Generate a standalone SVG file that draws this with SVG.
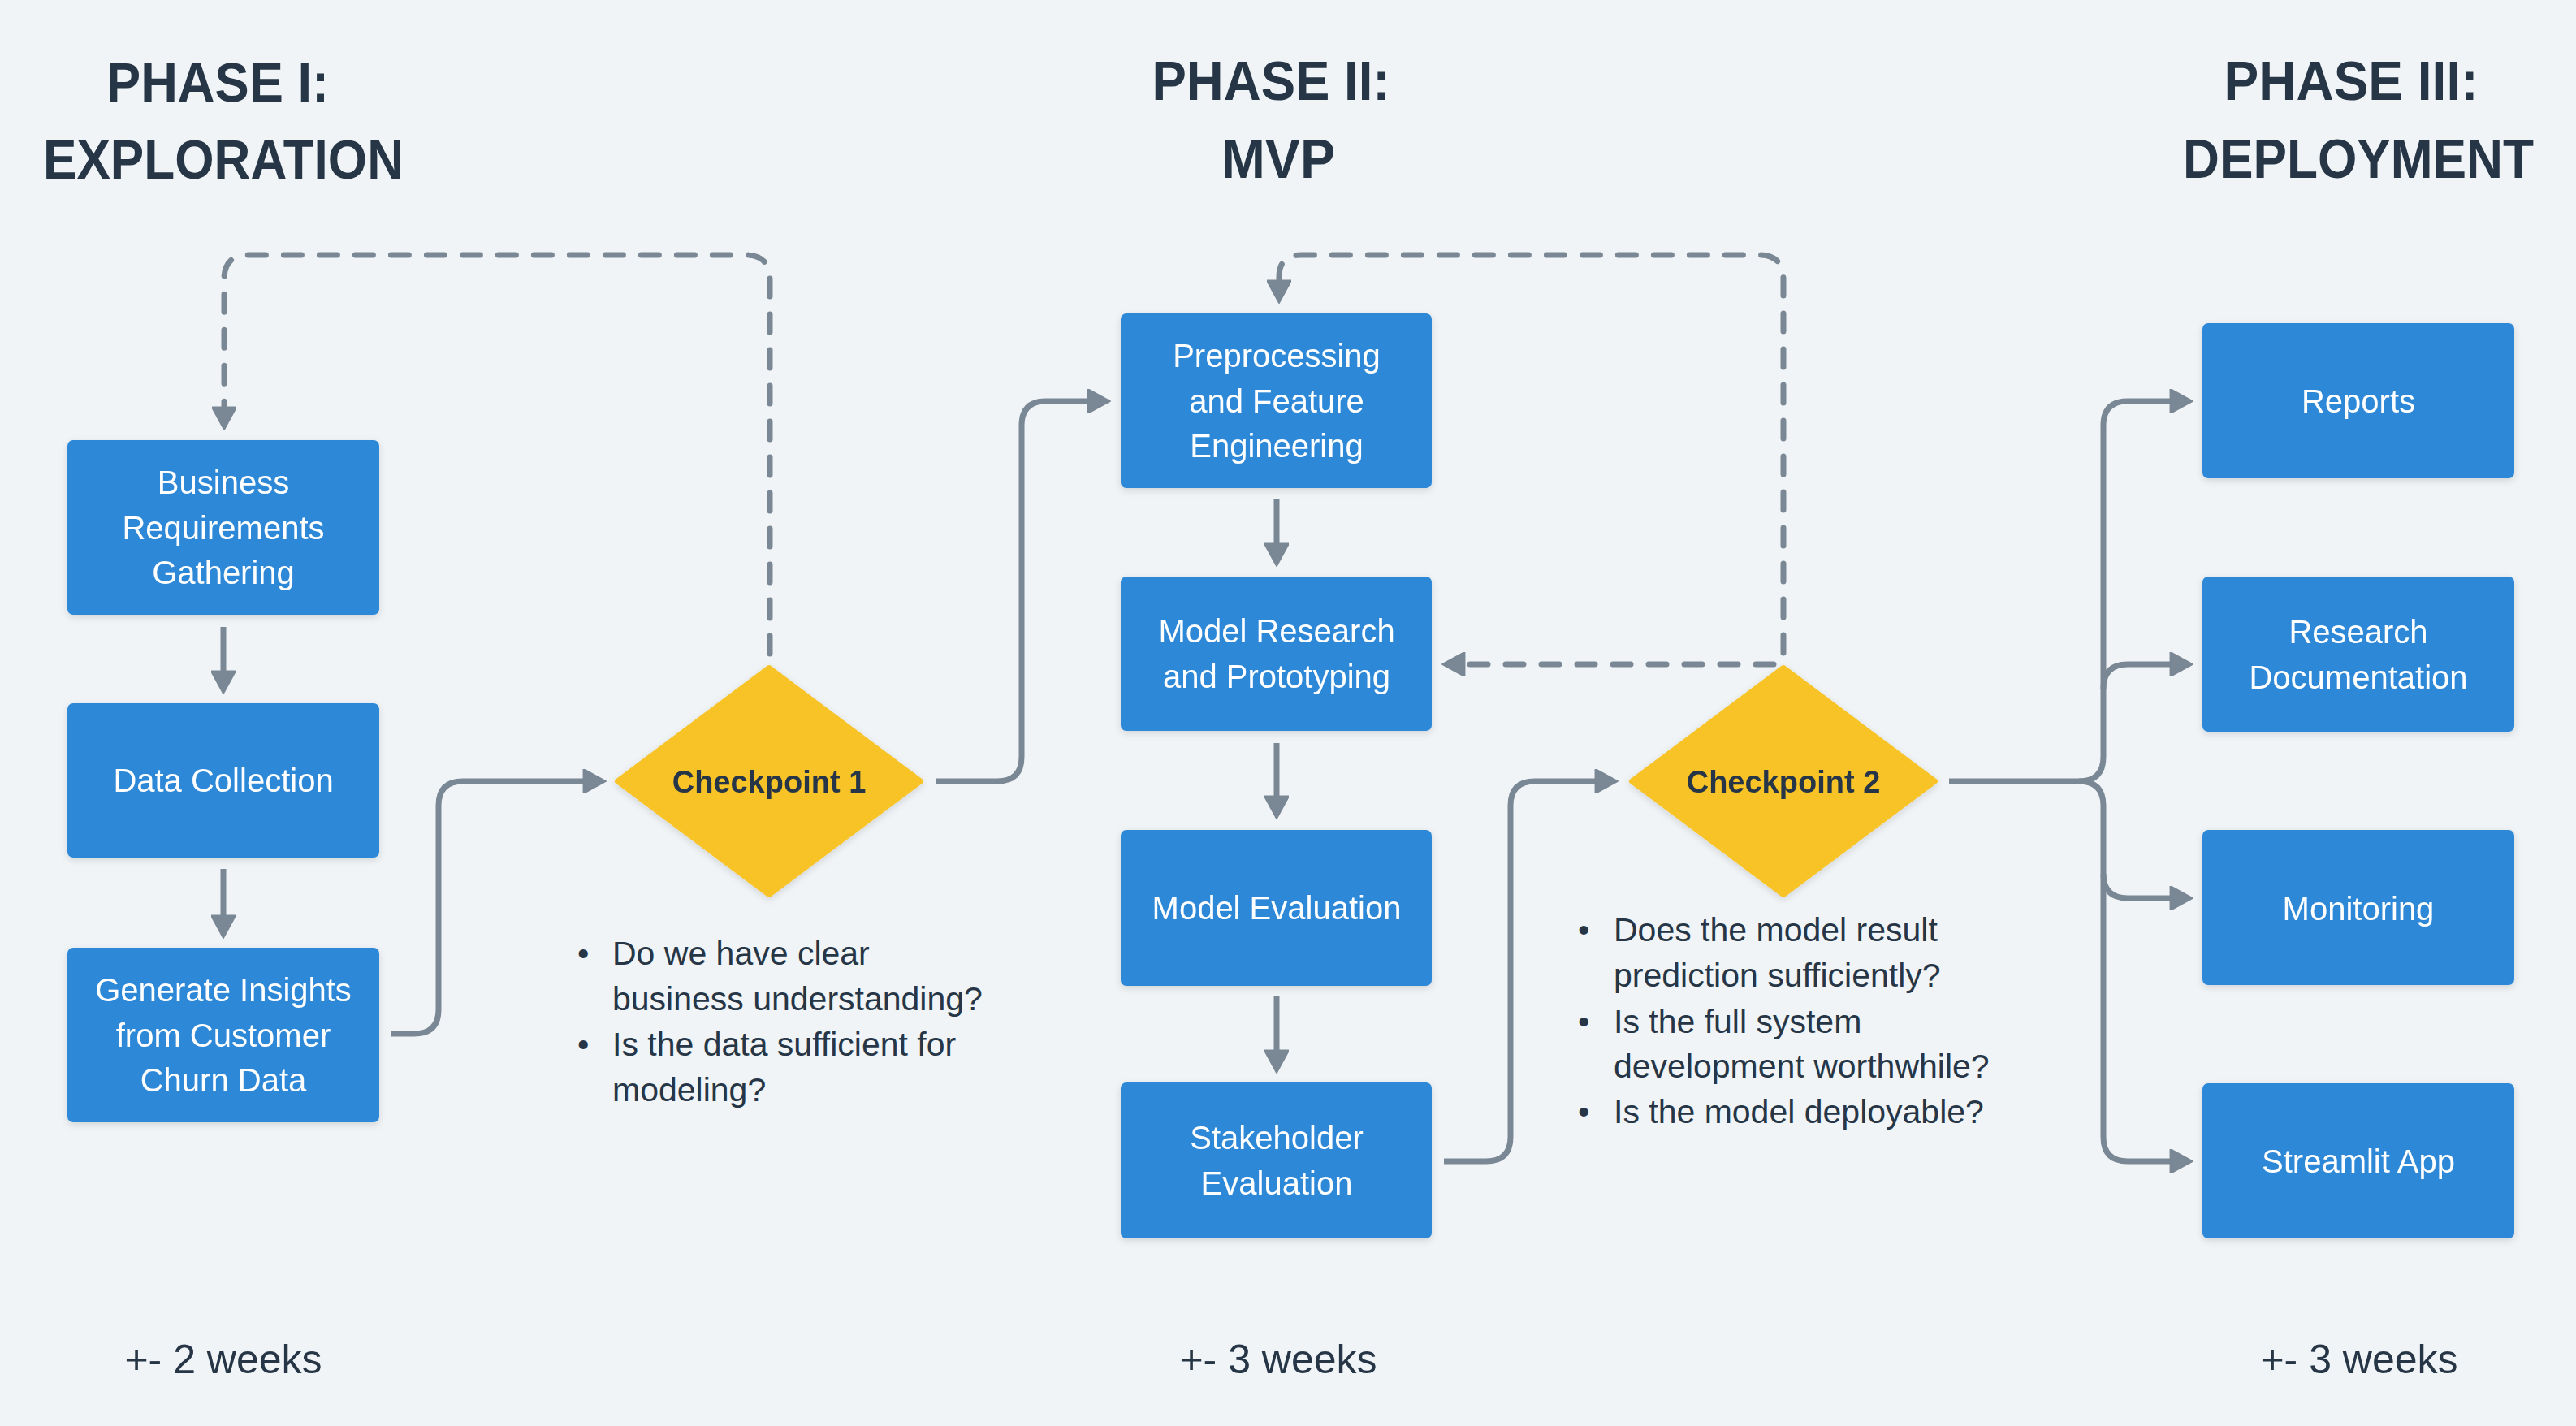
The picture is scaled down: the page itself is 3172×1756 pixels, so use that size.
<svg xmlns="http://www.w3.org/2000/svg" width="3172" height="1756" viewBox="0 0 3172 1756">
<defs>
<style>
.bg{fill:#F0F4F7}
.head{font-family:"Liberation Sans",Arial,sans-serif;font-weight:bold;font-size:68px;fill:#263646;text-anchor:middle}
.box{fill:#2E88D8}
.bt{font-family:"Liberation Sans",Arial,sans-serif;font-size:40px;fill:#FFFFFF;text-anchor:middle}
.dia{fill:#F7C325;stroke:#F7C325;stroke-width:6;stroke-linejoin:round}
.dt{font-family:"Liberation Sans",Arial,sans-serif;font-weight:bold;font-size:38px;fill:#263646;text-anchor:middle}
.note{font-family:"Liberation Sans",Arial,sans-serif;font-size:41px;fill:#263646}
.dur{font-family:"Liberation Sans",Arial,sans-serif;font-size:50px;fill:#263646;text-anchor:middle}
.c{fill:none;stroke:#7A8794;stroke-width:7;stroke-linecap:butt;stroke-linejoin:round}
.d{fill:none;stroke:#7A8794;stroke-width:7;stroke-linecap:round;stroke-dasharray:22 22}
</style>
<marker id="ah" markerUnits="userSpaceOnUse" markerWidth="30" markerHeight="30" refX="14" refY="12" orient="auto" viewBox="0 0 22 24">
<path d="M0,0 L22,12 L0,24 z" fill="#7A8794" stroke="#7A8794" stroke-width="1.5" stroke-linejoin="round"/>
</marker>
<filter id="sh" x="-10%" y="-10%" width="120%" height="130%">
<feDropShadow dx="0" dy="3" stdDeviation="4" flood-color="#000000" flood-opacity="0.13"/>
</filter>
</defs>
<rect class="bg" x="0" y="0" width="3172" height="1756"/>

<g id="headings">
<text class="head" x="268" y="125" textLength="274" lengthAdjust="spacingAndGlyphs">PHASE I:</text>
<text class="head" x="275" y="220" textLength="444" lengthAdjust="spacingAndGlyphs">EXPLORATION</text>
<text class="head" x="1565" y="123" textLength="293" lengthAdjust="spacingAndGlyphs">PHASE II:</text>
<text class="head" x="1574" y="219" textLength="140" lengthAdjust="spacingAndGlyphs">MVP</text>
<text class="head" x="2895" y="123" textLength="313" lengthAdjust="spacingAndGlyphs">PHASE III:</text>
<text class="head" x="2904" y="219" textLength="432" lengthAdjust="spacingAndGlyphs">DEPLOYMENT</text>
</g>

<g id="connectors">
<path class="c" d="M275,772 V844" marker-end="url(#ah)"/>
<path class="c" d="M275,1070 V1145" marker-end="url(#ah)"/>
<path class="c" d="M481,1273 H510 Q540,1273 540,1243 V992 Q540,962 570,962 H736" marker-end="url(#ah)"/>
<path class="c" d="M1153,962 H1228 Q1258,962 1258,932 V524 Q1258,494 1288,494 H1357" marker-end="url(#ah)"/>
<path class="c" d="M1572,615 V687" marker-end="url(#ah)"/>
<path class="c" d="M1572,915 V998" marker-end="url(#ah)"/>
<path class="c" d="M1572,1227 V1311" marker-end="url(#ah)"/>
<path class="c" d="M1778,1430 H1830 Q1860,1430 1860,1400 V992 Q1860,962 1890,962 H1982" marker-end="url(#ah)"/>
<path class="c" d="M2400,962 H2560 Q2590,962 2590,932 V524 Q2590,494 2620,494 H2690" marker-end="url(#ah)"/>
<path class="c" d="M2560,962 Q2590,962 2590,992 V1400 Q2590,1430 2620,1430 H2690" marker-end="url(#ah)"/>
<path class="c" d="M2590,848 Q2590,818 2620,818 H2690" marker-end="url(#ah)"/>
<path class="c" d="M2590,1076 Q2590,1106 2620,1106 H2690" marker-end="url(#ah)"/>
<path class="d" d="M948,805 V344 Q948,314 918,314 H306 Q276,314 276,344 V519" marker-end="url(#ah)"/>
<path class="d" d="M2196,804 V344 Q2196,314 2166,314 H1602 Q1575,314 1575,341 V363" marker-end="url(#ah)"/>
<path class="d" d="M2184,818 H1786" marker-end="url(#ah)"/>
</g>

<g id="n-business" filter="url(#sh)">
<rect class="box" x="83" y="542" width="384" height="215" rx="7"/>
<text class="bt" x="275" y="608">Business</text>
<text class="bt" x="275" y="664">Requirements</text>
<text class="bt" x="275" y="719">Gathering</text>
</g>
<g id="n-datacollection" filter="url(#sh)">
<rect class="box" x="83" y="866" width="384" height="190" rx="7"/>
<text class="bt" x="275" y="975">Data Collection</text>
</g>
<g id="n-insights" filter="url(#sh)">
<rect class="box" x="83" y="1167" width="384" height="215" rx="7"/>
<text class="bt" x="275" y="1233">Generate Insights</text>
<text class="bt" x="275" y="1289">from Customer</text>
<text class="bt" x="275" y="1344">Churn Data</text>
</g>

<g id="n-checkpoint1" filter="url(#sh)">
<polygon class="dia" points="947,822 1134,962 947,1102 760,962"/>
<text class="dt" x="947" y="976">Checkpoint 1</text>
</g>
<g id="notes1">
<text class="note" x="711" y="1188">•</text>
<text class="note" x="754" y="1188">Do we have clear</text>
<text class="note" x="754" y="1244">business understanding?</text>
<text class="note" x="711" y="1300">•</text>
<text class="note" x="754" y="1300">Is the data sufficient for</text>
<text class="note" x="754" y="1356">modeling?</text>
</g>

<g id="n-preprocessing" filter="url(#sh)">
<rect class="box" x="1380" y="386" width="383" height="215" rx="7"/>
<text class="bt" x="1572" y="452">Preprocessing</text>
<text class="bt" x="1572" y="508">and Feature</text>
<text class="bt" x="1572" y="563">Engineering</text>
</g>
<g id="n-modelresearch" filter="url(#sh)">
<rect class="box" x="1380" y="710" width="383" height="190" rx="7"/>
<text class="bt" x="1572" y="791">Model Research</text>
<text class="bt" x="1572" y="847">and Prototyping</text>
</g>
<g id="n-modeleval" filter="url(#sh)">
<rect class="box" x="1380" y="1022" width="383" height="192" rx="7"/>
<text class="bt" x="1572" y="1132">Model Evaluation</text>
</g>
<g id="n-stakeholder" filter="url(#sh)">
<rect class="box" x="1380" y="1333" width="383" height="192" rx="7"/>
<text class="bt" x="1572" y="1415">Stakeholder</text>
<text class="bt" x="1572" y="1471">Evaluation</text>
</g>

<g id="n-checkpoint2" filter="url(#sh)">
<polygon class="dia" points="2196,822 2383,962 2196,1102 2009,962"/>
<text class="dt" x="2196" y="976">Checkpoint 2</text>
</g>
<g id="notes2">
<text class="note" x="1943" y="1159">•</text>
<text class="note" x="1987" y="1159">Does the model result</text>
<text class="note" x="1987" y="1215">prediction sufficiently?</text>
<text class="note" x="1943" y="1272">•</text>
<text class="note" x="1987" y="1272">Is the full system</text>
<text class="note" x="1987" y="1327">development worthwhile?</text>
<text class="note" x="1943" y="1383">•</text>
<text class="note" x="1987" y="1383">Is the model deployable?</text>
</g>

<g id="n-reports" filter="url(#sh)">
<rect class="box" x="2712" y="398" width="384" height="191" rx="7"/>
<text class="bt" x="2904" y="508">Reports</text>
</g>
<g id="n-researchdoc" filter="url(#sh)">
<rect class="box" x="2712" y="710" width="384" height="191" rx="7"/>
<text class="bt" x="2904" y="792">Research</text>
<text class="bt" x="2904" y="848">Documentation</text>
</g>
<g id="n-monitoring" filter="url(#sh)">
<rect class="box" x="2712" y="1022" width="384" height="191" rx="7"/>
<text class="bt" x="2904" y="1133">Monitoring</text>
</g>
<g id="n-streamlit" filter="url(#sh)">
<rect class="box" x="2712" y="1334" width="384" height="191" rx="7"/>
<text class="bt" x="2904" y="1444">Streamlit App</text>
</g>

<g id="durations">
<text class="dur" x="275" y="1691">+- 2 weeks</text>
<text class="dur" x="1574" y="1691">+- 3 weeks</text>
<text class="dur" x="2905" y="1691">+- 3 weeks</text>
</g>
</svg>
